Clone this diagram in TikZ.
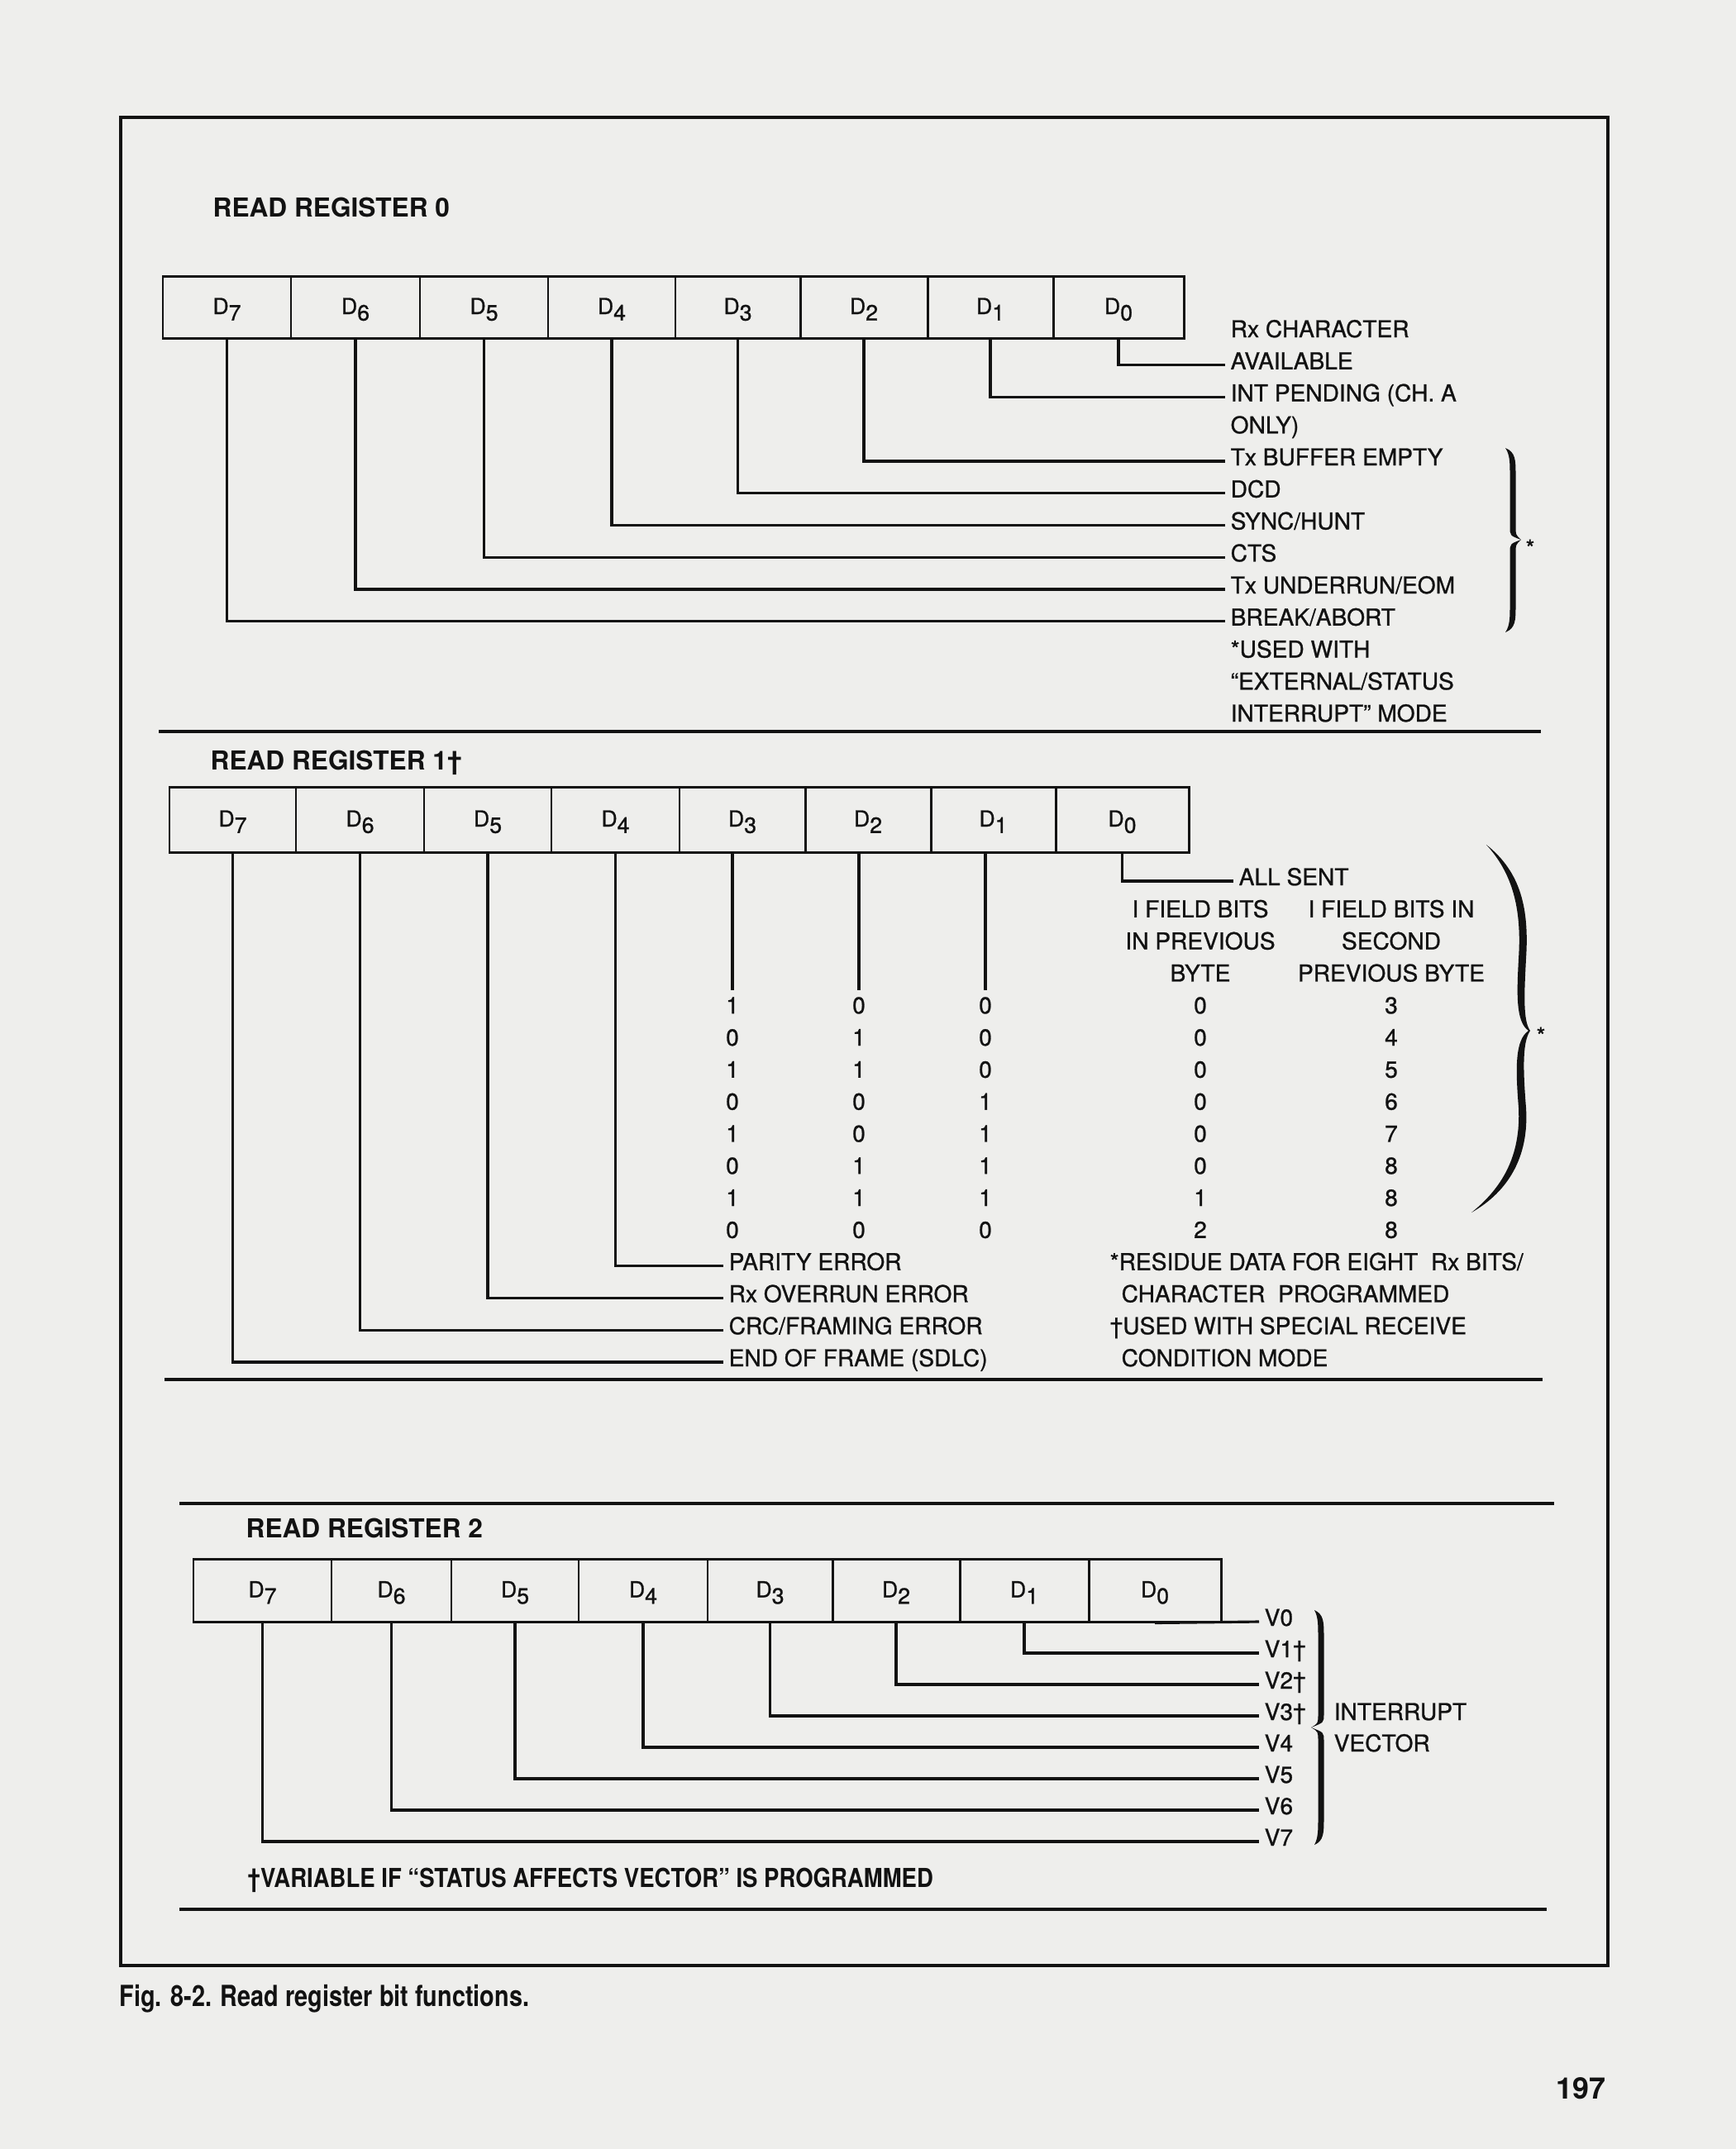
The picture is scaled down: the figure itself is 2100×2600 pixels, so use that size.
\documentclass[tikz,border=0pt]{standalone}
\usepackage{fontspec}
\setmainfont{TeX Gyre Heros}
\newfontfamily\lblfont{TeX Gyre Heros}[FakeBold=0.9]
\newfontfamily\capfont{TeX Gyre Heros}[FakeStretch=0.82]
\newfontfamily\notefont{TeX Gyre Heros}[FakeStretch=0.87]
\definecolor{paper}{RGB}{238,238,236}
\definecolor{ink}{RGB}{18,18,18}
% right/left brace as a tapered filled shape
% #1 end x, #2 body x, #3 tip x, #4 top y, #5 mid y, #6 bottom y, #7 half width
\newcommand\mybrace[7]{%
\fill (#1,#4) .. controls ({#2+#7},{#4+5}) and ({#2+#7},{#4+15}) .. ({#2+#7},{#4+32})
 -- ({#2+#7},{#5-16}) .. controls ({#2+#7},{#5-6}) .. (#3,#5)
 .. controls ({#2+#7},{#5+6}) .. ({#2+#7},{#5+16})
 -- ({#2+#7},{#6-32}) .. controls ({#2+#7},{#6-15}) and ({#2+#7},{#6-5}) .. (#1,#6)
 .. controls ({#2-#7},{#6-8}) and ({#2-#7},{#6-18}) .. ({#2-#7},{#6-32})
 -- ({#2-#7},{#5+16}) .. controls ({#2-#7},{#5+5}) .. (#3,#5)
 .. controls ({#2-#7},{#5-5}) .. ({#2-#7},{#5-16})
 -- ({#2-#7},{#4+32}) .. controls ({#2-#7},{#4+18}) and ({#2-#7},{#4+8}) .. (#1,#4) -- cycle;}
\begin{document}
\begin{tikzpicture}[x=0.1mm, y=-0.1mm, color=ink,
  lbl/.style={inner xsep=0.6mm, inner ysep=0pt, text height=1mm, text depth=0pt,
    font=\lblfont\fontsize{8}{9}\selectfont},
  lblw/.style={lbl, anchor=west},
  cell/.style={draw, line width=0.85pt, inner sep=0pt, text height=2mm, text depth=0.3mm,
    font=\lblfont\fontsize{7.6}{9}\selectfont},
  wire/.style={line width=0.9pt},
  rulel/.style={line width=1.0pt},
  head/.style={anchor=base west, inner sep=0pt, font=\fontsize{9}{11}\selectfont\bfseries},
  starn/.style={inner sep=0pt, font=\lblfont\fontsize{8}{9}\selectfont}]
\fill[paper] (0,0) rectangle (2100,2600);
\useasboundingbox (0,0) rectangle (2100,2600);

% frame
\draw[line width=1.3pt] (146,142) rectangle (1945,2378);

% ================= READ REGISTER 0 =================
\node[head] (h0) at (257,262) {READ REGISTER 0};
\foreach \n/\a/\b in {7/197/352,6/352/508,5/508/663,4/663/817,3/817/968,2/968/1122,1/1122/1274,0/1274/1432}
  \node[cell, minimum width={(\b-\a)*0.1mm}, minimum height=7.5mm] (r0d\n) at ({(\a+\b)/2},371.5) {D\raisebox{-2.2pt}{\n}};
\foreach \k/\t in {0/{Rx CHARACTER},1/{AVAILABLE},2/{INT PENDING (CH. A},3/{ONLY)},
  4/{Tx BUFFER EMPTY},5/{DCD},6/{SYNC/HUNT},7/{CTS},8/{Tx UNDERRUN/EOM},
  9/{BREAK/ABORT},10/{*USED WITH},11/{“EXTERNAL/STATUS},12/{INTERRUPT” MODE}}
  \node[lblw] (l0r\k) at (1482,{403+38.75*\k}) {\t};
\draw[wire] (r0d0.south) |- (l0r1.west);
\draw[wire] (r0d1.south) |- (l0r2.west);
\draw[wire] (r0d2.south) |- (l0r4.west);
\draw[wire] (r0d3.south) |- (l0r5.west);
\draw[wire] (r0d4.south) |- (l0r6.west);
\draw[wire] (r0d5.south) |- (l0r7.west);
\draw[wire] (r0d6.south) |- (l0r8.west);
\draw[wire] (r0d7.south) |- (l0r9.west);
\mybrace{1821}{1830}{1840}{542}{653}{765}{3.5}
\node[starn] (st0) at (1851,663) {*};
\draw[rulel] (192,885) -- (1864,885);

% ================= READ REGISTER 1 =================
\node[head] (h1) at (254,931) {READ REGISTER 1†};
\foreach \n/\a/\b in {7/205/358,6/358/513,5/513/667,4/667/822,3/822/974,2/974/1126,1/1126/1277,0/1277/1438}
  \node[cell, minimum width={(\b-\a)*0.1mm}, minimum height=7.9mm] (r1d\n) at ({(\a+\b)/2},991.5) {D\raisebox{-2.2pt}{\n}};
\node[lblw] (r1all) at (1492,1066) {ALL SENT};
\draw[wire] (r1d0.south) |- (r1all.west);
% column headers
\node[lbl] (r1h1a) at (1452,{1066+38.8*1}) {I FIELD BITS};
\node[lbl] (r1h2a) at (1452,{1066+38.8*2}) {IN PREVIOUS};
\node[lbl] (r1h3a) at (1452,{1066+38.8*3}) {BYTE};
\node[lbl] (r1h1b) at (1683,{1066+38.8*1}) {I FIELD BITS IN};
\node[lbl] (r1h2b) at (1683,{1066+38.8*2}) {SECOND};
\node[lbl] (r1h3b) at (1683,{1066+38.8*3}) {PREVIOUS BYTE};
% table of values
\foreach \k/\p/\q/\r/\s/\u in {4/1/0/0/0/3,5/0/1/0/0/4,6/1/1/0/0/5,7/0/0/1/0/6,
  8/1/0/1/0/7,9/0/1/1/0/8,10/1/1/1/1/8,11/0/0/0/2/8}{
  \node[lbl] (r1a\k) at (886,{1066+38.8*\k}) {\p};
  \node[lbl] (r1b\k) at (1039,{1066+38.8*\k}) {\q};
  \node[lbl] (r1c\k) at (1192,{1066+38.8*\k}) {\r};
  \node[lbl] (r1e\k) at (1452,{1066+38.8*\k}) {\s};
  \node[lbl] (r1f\k) at (1683,{1066+38.8*\k}) {\u};
}
\coordinate (e3) at (886,1198);
\coordinate (e2) at (1039,1198);
\coordinate (e1) at (1192,1198);
\draw[wire] (r1d3.south -| e3) -- (e3);
\draw[wire] (r1d2.south -| e2) -- (e2);
\draw[wire] (r1d1.south -| e1) -- (e1);
% bottom labels
\foreach \k/\t in {12/{PARITY ERROR},13/{Rx OVERRUN ERROR},14/{CRC/FRAMING ERROR},15/{END OF FRAME (SDLC)}}
  \node[lblw] (r1l\k) at (875,{1066+38.8*\k}) {\t};
\draw[wire] (r1d4.south) |- (r1l12.west);
\draw[wire] (r1d5.south) |- (r1l13.west);
\draw[wire] (r1d6.south) |- (r1l14.west);
\draw[wire] (r1d7.south) |- (r1l15.west);
% footnotes
\node[lblw] (r1n1) at (1336,{1066+38.8*12}) {*RESIDUE DATA FOR EIGHT\ \ Rx BITS/};
\node[lblw] (r1n2) at (1350,{1066+38.8*13}) {CHARACTER\ \ PROGRAMMED};
\node[lblw] (r1n3) at (1336,{1066+38.8*14}) {†USED WITH SPECIAL RECEIVE};
\node[lblw] (r1n4) at (1350,{1066+38.8*15}) {CONDITION MODE};
% big brace
\fill (1798,1022) .. controls (1840,1055) and (1850,1100) .. (1846,1160)
  .. controls (1844,1200) and (1842,1235) .. (1851,1247)
  .. controls (1842,1260) and (1842,1290) .. (1846,1340)
  .. controls (1850,1400) and (1824,1442) .. (1780,1467)
  .. controls (1816,1438) and (1840,1400) .. (1837,1340)
  .. controls (1833,1290) and (1833,1258) .. (1849,1247)
  .. controls (1833,1236) and (1835,1200) .. (1837,1160)
  .. controls (1841,1100) and (1830,1057) .. (1798,1022) -- cycle;
\node[starn] (st1) at (1864,1253) {*};
\draw[rulel] (199,1669) -- (1866,1669);

% ================= READ REGISTER 2 =================
\draw[rulel] (217,1819) -- (1880,1819);
\node[head] (h2) at (297,1860) {READ REGISTER 2};
\foreach \n/\a/\b in {7/234/401,6/401/546,5/546/700,4/700/856,3/856/1007,2/1007/1161,1/1161/1317,0/1317/1477}
  \node[cell, minimum width={(\b-\a)*0.1mm}, minimum height=7.6mm] (r2d\n) at ({(\a+\b)/2},1924) {D\raisebox{-2.2pt}{\n}};
\foreach \k/\t in {0/{V0},1/{V1†},2/{V2†},3/{V3†},4/{V4},5/{V5},6/{V6},7/{V7}}
  \node[lblw] (v\k) at (1523,{1962+38*\k}) {\t};
\draw[wire] (r2d0.south) -- (v0.west);
\draw[wire] (r2d1.south) |- (v1.west);
\draw[wire] (r2d2.south) |- (v2.west);
\draw[wire] (r2d3.south) |- (v3.west);
\draw[wire] (r2d4.south) |- (v4.west);
\draw[wire] (r2d5.south) |- (v5.west);
\draw[wire] (r2d6.south) |- (v6.west);
\draw[wire] (r2d7.south) |- (v7.west);
\mybrace{1590}{1598}{1586}{1948}{2090}{2232}{3.5}
\node[lblw] (iv1) at (1607,{1962+38*3}) {INTERRUPT};
\node[lblw] (iv2) at (1607,{1962+38*4}) {VECTOR};
\node[head, font=\notefont\fontsize{9}{11}\selectfont\bfseries] (fn2) at (299,2283)
  {†VARIABLE IF “STATUS AFFECTS VECTOR” IS PROGRAMMED};
\draw[rulel] (217,2310) -- (1871,2310);

% caption and page number
\node[anchor=base west, inner sep=0pt, font=\capfont\fontsize{10}{12}\selectfont\bfseries] (cap) at (144,2427)
  {Fig. 8-2. Read register bit functions.};
\node[anchor=base west, inner sep=0pt, font=\fontsize{10.2}{12}\selectfont\bfseries] (pg) at (1882,2539) {197};
\end{tikzpicture}
\end{document}
